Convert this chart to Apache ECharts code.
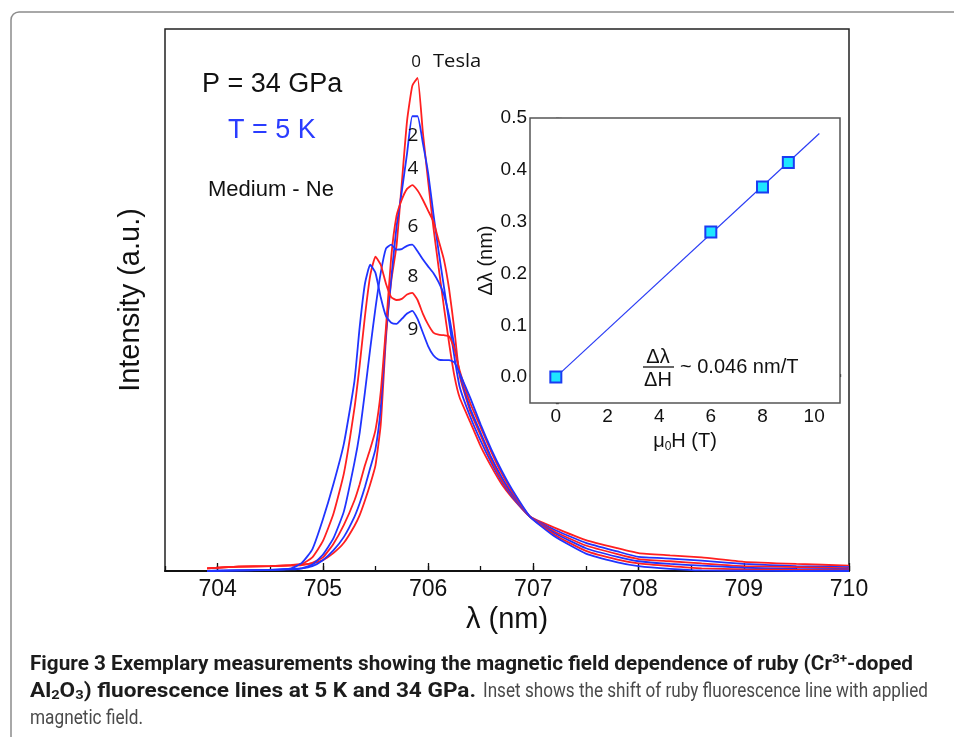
<!DOCTYPE html>
<html>
<head>
<meta charset="utf-8">
<script src="https://cdn.jsdelivr.net/npm/echarts@6/dist/echarts.min.js"></script>
<style>
  html, body { margin: 0; padding: 0; background: #fff; }
  #chart { width: 954px; height: 737px; }
</style>
</head>
<body>
<div id="chart"></div>
<script>
// wavelength grid (nm), shared by all spectra
const wavelength = [703.9, 704.2, 704.5, 704.7, 704.8, 704.9, 705.0, 705.1, 705.2, 705.3,
  705.35, 705.4, 705.45, 705.5, 705.55, 705.6, 705.65, 705.7, 705.75, 705.8,
  705.85, 705.9, 705.95, 706.0, 706.05, 706.1, 706.15, 706.2, 706.25, 706.3,
  706.4, 706.5, 706.6, 706.7, 706.8, 706.97, 707.2, 707.5, 707.8, 708.0,
  708.3, 708.6, 709.0, 709.5, 710.0];

// intensity (a.u.)
const tesla0 = [0.5, 0.8, 0.9, 1.1, 1.2, 1.4, 2, 3.3, 5.2, 8.3,
  10.3, 13, 16, 19.5, 27, 43, 53.5, 60, 71.5, 83,
  89.5, 91, 81, 72, 63.5, 56, 48.8, 42, 36, 32,
  27.5, 23, 19.3, 16, 13.5, 10, 8.0, 5.7, 4.2, 3.3,
  2.9, 2.5, 1.7, 1.3, 1.0];
const tesla2 = [0, 0.1, 0.2, 0.4, 0.5, 0.9, 2, 3.8, 6.3, 10,
  12.5, 15.5, 19, 22.5, 30, 44, 54, 63.5, 70, 77,
  83.9, 83.9, 79, 73.5, 66, 59, 52.5, 46, 39.5, 34,
  28.5, 24, 20, 16.5, 13.7, 10, 7.6, 5.2, 3.6, 2.6,
  2.3, 1.9, 1.3, 0.9, 0.7];
const tesla4 = [0.5, 0.8, 0.9, 1.0, 1.1, 1.5, 2.5, 5, 8.5, 13,
  16, 19.5, 22.5, 26, 33, 45, 58, 65.5, 68.5, 70.5,
  71.2, 70.2, 68.5, 66.5, 64.5, 61, 57.5, 52, 44.5, 36,
  29.5, 25, 20.5, 16.8, 14, 10, 7.3, 4.7, 3.1, 2.2,
  1.8, 1.4, 0.9, 0.7, 0.5];
const tesla6 = [0, 0.1, 0.2, 0.3, 0.5, 1.2, 3, 6, 11, 20,
  25.5, 33, 41, 48.5, 55, 59.5, 60.2, 59.3, 59.4, 60,
  60.2, 59, 57.5, 56.2, 55, 53.3, 51, 47, 41.5, 36.5,
  30, 25.5, 21, 17.3, 14.2, 10, 7.0, 4.2, 2.6, 1.8,
  1.3, 1.0, 0.6, 0.4, 0.3];
const tesla8 = [0.5, 0.8, 0.9, 1.1, 1.3, 2.5, 5.5, 10.5, 18, 30,
  38, 47, 54.5, 58, 56.5, 53, 50.5, 50, 50.2, 51,
  51.3, 50, 47.5, 45.5, 44, 43.6, 43.5, 43.3, 41, 37,
  31, 26.5, 22, 18, 14.6, 10, 6.7, 3.7, 2.1, 1.4,
  0.9, 0.5, 0.3, 0.2, 0.1];
const tesla9 = [0, 0.1, 0.2, 0.5, 1.5, 4, 9.5, 16, 23.5, 35,
  45, 53, 56.5, 55, 50.5, 47, 45.8, 45.6, 46.5, 47.5,
  48, 46.5, 44, 41.5, 39.8, 39, 38.9, 38.9, 38.5, 36.5,
  32, 27, 22.5, 18.5, 15, 10, 6.4, 3.2, 1.6, 0.9,
  0.4, 0.1, 0.05, 0, 0];

const spectra = [
  { name: "0 T", values: tesla0, color: "#ff2020" },
  { name: "2 T", values: tesla2, color: "#2034ff" },
  { name: "4 T", values: tesla4, color: "#ff2020" },
  { name: "6 T", values: tesla6, color: "#2034ff" },
  { name: "8 T", values: tesla8, color: "#ff2020" },
  { name: "9 T", values: tesla9, color: "#2034ff" },
];

const lambdaTicks = [704, 705, 706, 707, 708, 709, 710];

// inset: line shift vs field
const insetField = [0, 6, 8, 9];
const insetShift = [0, 0.28, 0.367, 0.414];
const fitField = [0, 10.2];
const fitShift = [0, 0.47];
const insetFieldTicks = [0, 2, 4, 6, 8, 10];
const insetShiftTicks = [0, 0.1, 0.2, 0.3, 0.4, 0.5];

const sans = "'Liberation Sans', Arial, Helvetica, sans-serif";
const labelFont = "'Open Sans', 'Liberation Sans', sans-serif";
const capFont = "Roboto, 'Liberation Sans', sans-serif";

const zip = (xs, ys) => xs.map((x, i) => [x, ys[i]]);

// caption text is squeezed horizontally to the width it takes in the figure
const measureCtx = document.createElement("canvas").getContext("2d");
function textWidth(str, size, weight) {
  measureCtx.font = `${weight || "normal"} ${size}px ${capFont}`;
  return measureCtx.measureText(str).width;
}
const cap1a = "Figure 3 Exemplary measurements showing the magnetic field dependence of ruby (Cr";
const cap2b = ") fluorescence lines at 5 K and 34 GPa.";
const cap2r = "Inset shows the shift of ruby fluorescence line with applied";
const cap3 = "magnetic field.";
const cap1W = textWidth(cap1a, 20, "bold") + textWidth("3+", 13, "bold") + textWidth("-doped", 20, "bold");
const cap2bW = textWidth("Al", 20, "bold") + textWidth("O", 20, "bold") + 2 * textWidth("2", 13, "bold") + textWidth(cap2b, 20, "bold");
const cap2rW = textWidth(cap2r, 20);
const cap3W = textWidth(cap3, 20);

const chart = echarts.init(document.getElementById("chart"), null, { renderer: "canvas" });

const tickStyle = { color: "#111", width: 1.3 };
const capRich = {
  b: { fontFamily: capFont, fontSize: 20, fontWeight: "bold", fill: "#1c1c1c", lineHeight: 24 },
  p: { fontFamily: capFont, fontSize: 13, fontWeight: "bold", fill: "#1c1c1c", lineHeight: 24, padding: [0, 0, 10, 0] },
  s: { fontFamily: capFont, fontSize: 13, fontWeight: "bold", fill: "#1c1c1c", lineHeight: 24, padding: [8, 0, 0, 0] },
};

chart.setOption({
  animation: false,
  backgroundColor: "#fff",
  grid: [
    { left: 165, top: 29, width: 684, height: 542, show: true,
      borderColor: "#222", borderWidth: 1.5, backgroundColor: "transparent" },
    { left: 530, top: 118, width: 310, height: 285, show: true,
      borderColor: "#555", borderWidth: 1.5, backgroundColor: "#fff", z: 3 },
  ],
  xAxis: [
    {
      gridIndex: 0, type: "value", position: "bottom", min: 703.5, max: 710,
      name: "λ (nm)", nameLocation: "middle", nameGap: 33,
      nameTextStyle: { fontFamily: sans, fontSize: 29, color: "#111" },
      axisLine: { lineStyle: { color: "#111", width: 2 } },
      axisTick: { inside: true, length: 8, lineStyle: tickStyle, customValues: lambdaTicks },
      axisLabel: { fontFamily: sans, fontSize: 23, color: "#111", margin: 7, customValues: lambdaTicks },
      splitLine: { show: false },
    },
    {
      gridIndex: 0, type: "value", position: "bottom", min: 703.5, max: 710, interval: 0.5,
      axisLine: { show: false },
      axisTick: { inside: true, length: 5, lineStyle: tickStyle },
      axisLabel: { show: false },
      splitLine: { show: false },
    },
    {
      gridIndex: 1, type: "value", position: "bottom", min: -1, max: 11,
      name: "{t|μ}{s|0}{t|H (T)}", nameLocation: "middle", nameGap: 26,
      nameTextStyle: {
        rich: {
          t: { fontFamily: sans, fontSize: 20, color: "#111" },
          s: { fontFamily: sans, fontSize: 12, color: "#111", padding: [12, 0, 0, 0] },
        },
      },
      axisLine: { show: false },
      axisTick: { inside: true, length: 6, lineStyle: tickStyle, customValues: insetFieldTicks },
      axisLabel: { fontFamily: sans, fontSize: 19, color: "#111", margin: 4, customValues: insetFieldTicks },
      splitLine: { show: false },
    },
    {
      gridIndex: 1, type: "value", position: "bottom", min: -1, max: 11, interval: 1,
      axisLine: { show: false },
      axisTick: { inside: true, length: 3, lineStyle: tickStyle },
      axisLabel: { show: false },
      splitLine: { show: false },
    },
  ],
  yAxis: [
    {
      gridIndex: 0, type: "value", position: "left", min: 0, max: 100,
      name: "Intensity (a.u.)", nameLocation: "middle", nameGap: 20, nameRotate: 90,
      nameTextStyle: { fontFamily: sans, fontSize: 29, color: "#111" },
      axisLine: { show: false }, axisTick: { show: false },
      axisLabel: { show: false }, splitLine: { show: false },
    },
    {
      gridIndex: 1, type: "value", position: "left", min: -0.05, max: 0.5,
      name: "Δλ (nm)", nameLocation: "middle", nameGap: 33, nameRotate: 90,
      nameTextStyle: { fontFamily: sans, fontSize: 20, color: "#111" },
      axisLine: { show: false },
      axisTick: { inside: true, length: 6, lineStyle: tickStyle, customValues: insetShiftTicks },
      axisLabel: {
        fontFamily: sans, fontSize: 19, color: "#111", margin: 3,
        customValues: insetShiftTicks, formatter: (v) => v.toFixed(1),
      },
      splitLine: { show: false },
    },
    {
      gridIndex: 1, type: "value", position: "left", min: -0.05, max: 0.5, interval: 0.05,
      axisLine: { show: false },
      axisTick: { inside: true, length: 3, lineStyle: tickStyle },
      axisLabel: { show: false },
      splitLine: { show: false },
    },
  ],
  series: [
    ...spectra.map((s) => ({
      name: s.name, type: "line", xAxisIndex: 0, yAxisIndex: 0,
      data: zip(wavelength, s.values),
      showSymbol: false, smooth: 0.15,
      lineStyle: { color: s.color, width: 1.8 },
      z: 2,
    })),
    {
      name: "fit", type: "line", xAxisIndex: 2, yAxisIndex: 1,
      data: zip(fitField, fitShift), showSymbol: false,
      lineStyle: { color: "#2a3cf5", width: 1.2 }, z: 5,
    },
    {
      name: "shift", type: "scatter", xAxisIndex: 2, yAxisIndex: 1,
      data: zip(insetField, insetShift), symbol: "rect", symbolSize: 11,
      itemStyle: { color: "#1ee6ff", borderColor: "#1b3cf2", borderWidth: 2, opacity: 1 },
      z: 6,
    },
  ],
  graphic: [
    { type: "rect", shape: { x: 11, y: 12, width: 1000, height: 800, r: 8 },
      style: { fill: "none", stroke: "#8c8c8c", lineWidth: 1.5 }, z: 0, silent: true },
    { type: "text", x: 202, y: 85, z: 10,
      style: { text: "P = 34 GPa", fontFamily: sans, fontSize: 27, fill: "#111", textVerticalAlign: "middle" } },
    { type: "text", x: 228, y: 131, z: 10,
      style: { text: "T = 5 K", fontFamily: sans, fontSize: 27, fill: "#2a3cff", textVerticalAlign: "middle" } },
    { type: "text", x: 208, y: 190, z: 10,
      style: { text: "Medium - Ne", fontFamily: sans, fontSize: 22, fill: "#111", textVerticalAlign: "middle" } },
    { type: "text", x: 416, y: 62, z: 10,
      style: { text: "0", fontFamily: labelFont, fontSize: 17, fill: "#111", textAlign: "center", textVerticalAlign: "middle" } },
    { type: "text", x: 433, y: 62, z: 10, scaleX: 1.12,
      style: { text: "Tesla", fontFamily: labelFont, fontSize: 18, fill: "#111", textVerticalAlign: "middle" } },
    ...[["2", 136], ["4", 169], ["6", 227], ["8", 277], ["9", 330]].map(([t, y]) => ({
      type: "text", x: 413, y, z: 10,
      style: { text: t, fontFamily: labelFont, fontSize: 19, fill: "#111", textAlign: "center", textVerticalAlign: "middle" },
    })),
    // slope annotation in the inset
    { type: "text", x: 658, y: 357, z: 10,
      style: { text: "Δλ", fontFamily: sans, fontSize: 20, fill: "#111", textAlign: "center", textVerticalAlign: "middle" } },
    { type: "line", shape: { x1: 643, y1: 367, x2: 674, y2: 367 }, z: 10,
      style: { stroke: "#111", lineWidth: 1.3 } },
    { type: "text", x: 658, y: 380, z: 10,
      style: { text: "ΔH", fontFamily: sans, fontSize: 20, fill: "#111", textAlign: "center", textVerticalAlign: "middle" } },
    { type: "text", x: 680, y: 367, z: 10,
      style: { text: "~ 0.046 nm/T", fontFamily: sans, fontSize: 20, fill: "#111", textVerticalAlign: "middle" } },
    // caption
    { type: "text", x: 30, y: 665, z: 10, scaleX: 883 / cap1W,
      style: {
        text: "{b|" + cap1a + "}{p|3+}{b|-doped}",
        textVerticalAlign: "middle", rich: capRich,
      } },
    { type: "text", x: 30, y: 692, z: 10, scaleX: 446 / cap2bW,
      style: {
        text: "{b|Al}{s|2}{b|O}{s|3}{b|" + cap2b + "}",
        textVerticalAlign: "middle", rich: capRich,
      } },
    { type: "text", x: 483, y: 692, z: 10, scaleX: 445 / cap2rW,
      style: { text: cap2r, fontFamily: capFont, fontSize: 20, fill: "#4a4a4a", textVerticalAlign: "middle" } },
    { type: "text", x: 30, y: 719, z: 10, scaleX: 113 / cap3W,
      style: { text: cap3, fontFamily: capFont, fontSize: 20, fill: "#4a4a4a", textVerticalAlign: "middle" } },
  ],
});
</script>
</body>
</html>
